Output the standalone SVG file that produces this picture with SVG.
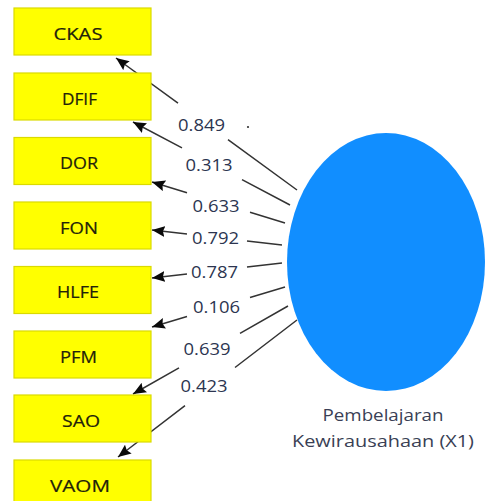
<svg xmlns="http://www.w3.org/2000/svg" width="486" height="501" viewBox="0 0 486 501">
  <defs>
    <marker id="arrow" viewBox="0 0 13 11" refX="13" refY="5.5" markerWidth="13" markerHeight="11" markerUnits="userSpaceOnUse" orient="auto">
      <path d="M0,0 L13,5.5 L0,11 L2,5.5 z" fill="#0a0a0a"/>
    </marker>
    <style>
      .box { fill: #FFFF00; stroke: #DADA00; stroke-width: 1.2; }
      .boxlabel { font-family: "Open Sans", "Noto Sans", sans-serif; font-size: 17px; fill: #22220a; text-anchor: middle; stroke: #22220a; stroke-width: 0.2; }
      .link { fill: none; stroke: #333; stroke-width: 1.5; marker-end: url(#arrow); }
      .weight { font-family: "Open Sans", "Noto Sans", sans-serif; font-size: 17px; fill: #2c3550; text-anchor: middle; }
      .latent { fill: #118EFF; }
      .latentlabel { font-family: "Open Sans", "Noto Sans", sans-serif; font-size: 16px; fill: #3a3f55; text-anchor: middle; }
    </style>
  </defs>

  <rect width="486" height="501" fill="#FFFFFF"/>

  <!-- outer loadings: construct to indicators, broken where the weight is printed -->
  <g id="connectors">
    <path class="link" d="M297,190 L228,139.7 M178,103.2 L116,58"/>
    <path class="link" d="M290,205 L242,179.6 M182,147.9 L133,122"/>
    <path class="link" d="M285,223 L250,212.2 M187,192.8 L152,182"/>
    <path class="link" d="M282,245 L247,241 M187,234 L152,230"/>
    <path class="link" d="M282,263 L247,267 M187,274 L152,278"/>
    <path class="link" d="M285,287 L250,297.5 M187,316.5 L152,327"/>
    <path class="link" d="M288,306 L240,333.3 M179,367.9 L133,394"/>
    <path class="link" d="M297,320 L235,367.5 M185,405.7 L118,457"/>

    <text class="weight" x="201.5" y="131" textLength="47" lengthAdjust="spacingAndGlyphs">0.849</text>
    <text class="weight" x="209" y="171" textLength="47" lengthAdjust="spacingAndGlyphs">0.313</text>
    <text class="weight" x="216" y="212" textLength="47" lengthAdjust="spacingAndGlyphs">0.633</text>
    <text class="weight" x="215.5" y="244" textLength="47" lengthAdjust="spacingAndGlyphs">0.792</text>
    <text class="weight" x="214.5" y="278" textLength="47" lengthAdjust="spacingAndGlyphs">0.787</text>
    <text class="weight" x="216.5" y="313" textLength="47" lengthAdjust="spacingAndGlyphs">0.106</text>
    <text class="weight" x="207" y="355" textLength="47" lengthAdjust="spacingAndGlyphs">0.639</text>
    <text class="weight" x="204" y="392" textLength="47" lengthAdjust="spacingAndGlyphs">0.423</text>
    <circle cx="248" cy="127" r="1.1" fill="#333"/>
  </g>

  <!-- indicators -->
  <g id="CKAS">
    <rect class="box" x="14" y="8" width="137" height="47"/>
    <text class="boxlabel" x="78" y="39.5" textLength="49" lengthAdjust="spacingAndGlyphs">CKAS</text>
  </g>
  <g id="DFIF">
    <rect class="box" x="14" y="73" width="137" height="47"/>
    <text class="boxlabel" x="79.5" y="104.5" textLength="35" lengthAdjust="spacingAndGlyphs">DFIF</text>
  </g>
  <g id="DOR">
    <rect class="box" x="14" y="137.5" width="137" height="47"/>
    <text class="boxlabel" x="79" y="169" textLength="38" lengthAdjust="spacingAndGlyphs">DOR</text>
  </g>
  <g id="FON">
    <rect class="box" x="14" y="202" width="137" height="47"/>
    <text class="boxlabel" x="79" y="234" textLength="38" lengthAdjust="spacingAndGlyphs">FON</text>
  </g>
  <g id="HLFE">
    <rect class="box" x="14" y="266.5" width="137" height="47"/>
    <text class="boxlabel" x="78" y="298" textLength="42" lengthAdjust="spacingAndGlyphs">HLFE</text>
  </g>
  <g id="PFM">
    <rect class="box" x="14" y="331" width="137" height="47"/>
    <text class="boxlabel" x="78.5" y="362.5" textLength="37" lengthAdjust="spacingAndGlyphs">PFM</text>
  </g>
  <g id="SAO">
    <rect class="box" x="14" y="395" width="137" height="47"/>
    <text class="boxlabel" x="81" y="426.5" textLength="38" lengthAdjust="spacingAndGlyphs">SAO</text>
  </g>
  <g id="VAOM">
    <rect class="box" x="14" y="460" width="137" height="47"/>
    <text class="boxlabel" x="80" y="491.5" textLength="60" lengthAdjust="spacingAndGlyphs">VAOM</text>
  </g>

  <!-- latent construct -->
  <g id="X1">
    <ellipse class="latent" cx="386" cy="262" rx="99" ry="129"/>
    <text class="latentlabel" x="383" y="421" textLength="121" lengthAdjust="spacingAndGlyphs">Pembelajaran</text>
    <text class="latentlabel" x="383" y="447" textLength="182" lengthAdjust="spacingAndGlyphs">Kewirausahaan (X1)</text>
  </g>
</svg>
